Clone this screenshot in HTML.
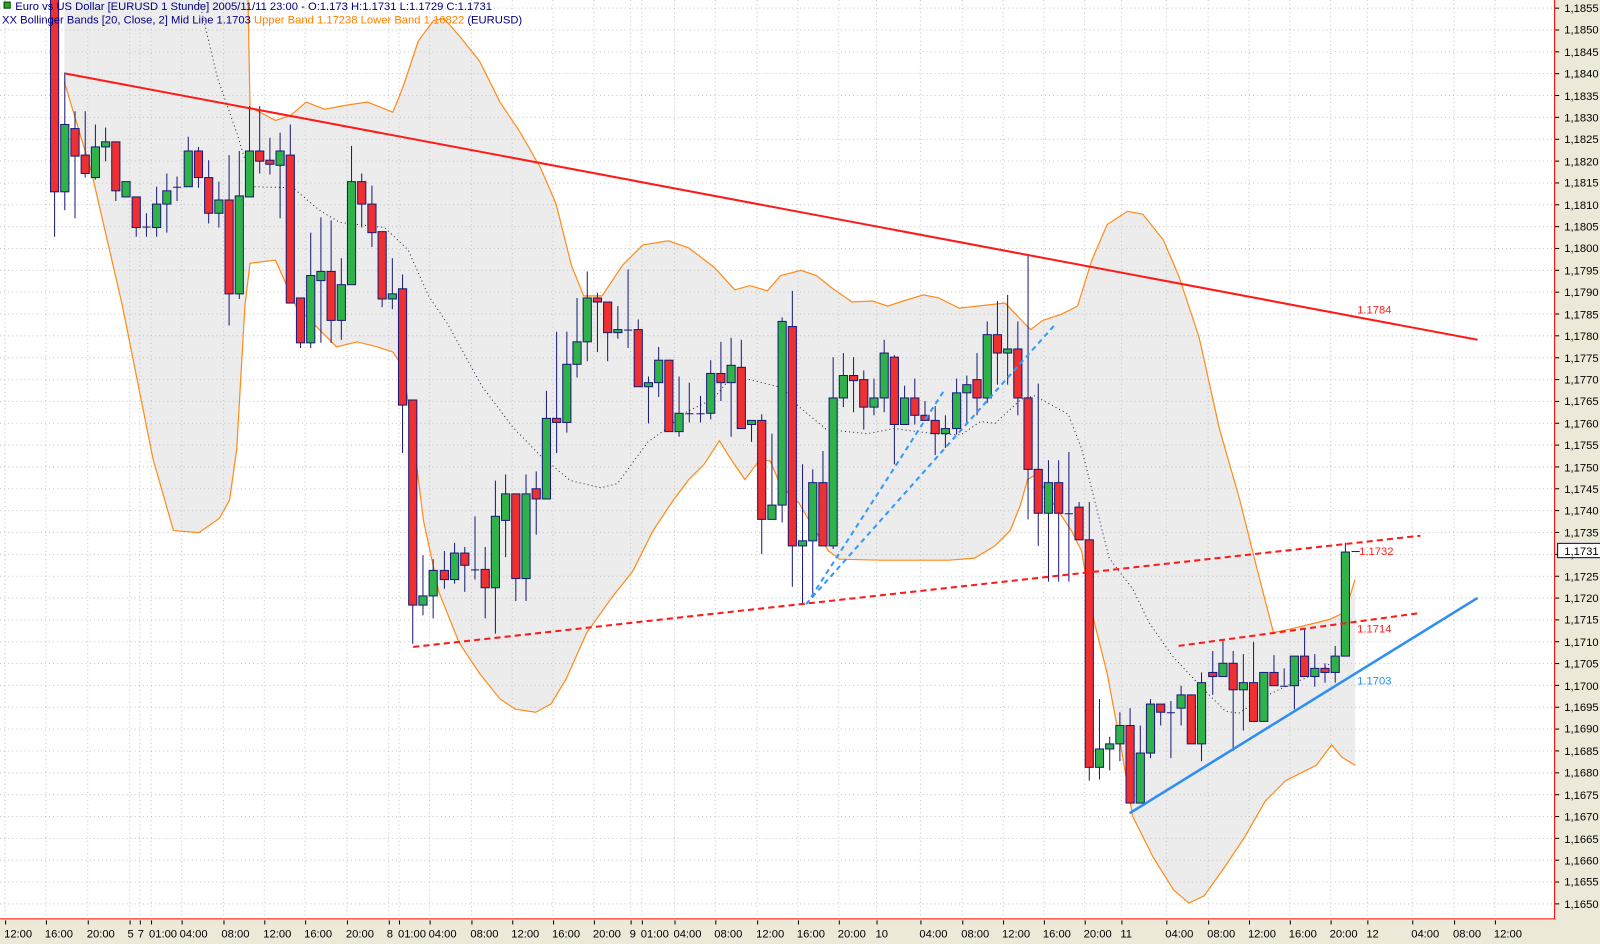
<!DOCTYPE html>
<html><head><meta charset="utf-8"><style>
html,body{margin:0;padding:0;background:#fff;}
svg{display:block;font-family:"Liberation Sans",sans-serif;}
</style></head><body>
<svg id="s" width="1600" height="944" viewBox="0 0 1600 944" xmlns="http://www.w3.org/2000/svg">
<rect x="0" y="0" width="1600" height="944" fill="#fff"/>
<g transform="scale(1.0204)">
<g id="band"></g>
<g id="grid"></g>
<g id="bandlines"></g>
<g id="candles"></g>
<g id="lines">
<line x1="64" y1="72" x2="1448" y2="333" stroke="#ff1a1a" stroke-width="2"/>
<line x1="405" y1="634" x2="1392" y2="525" stroke="#ff1a1a" stroke-width="2" stroke-dasharray="6,4"/>
<line x1="1155" y1="633" x2="1390" y2="601" stroke="#ff1a1a" stroke-width="2" stroke-dasharray="6,4"/>
<line x1="1107" y1="797" x2="1448" y2="586" stroke="#2f8ff0" stroke-width="2.5"/>
<line x1="790" y1="592" x2="1034" y2="318" stroke="#3399ff" stroke-width="2" stroke-dasharray="5,4"/>
<line x1="795" y1="585" x2="925" y2="383" stroke="#3399ff" stroke-width="2" stroke-dasharray="5,4"/>
</g>
<g font-size="11">
<text x="1330" y="307" fill="#ff2020">1.1784</text>
<text x="1332" y="544" fill="#ff2020">1.1732</text>
<text x="1330" y="620" fill="#ff2020">1.1714</text>
<text x="1330" y="671" fill="#2f8ff0">1.1703</text>
</g>
<rect x="4" y="2" width="6" height="6" fill="#22aa22" stroke="#004400" stroke-width="1"/>
<text x="15" y="10" font-size="11" fill="#000080">Euro vs US Dollar [EURUSD  1 Stunde] 2005/11/11 23:00 - O:1.173 H:1.1731 L:1.1729 C:1.1731</text>
<text x="2" y="23" font-size="11" fill="#000080">XX Bollinger Bands [20, Close, 2] Mid Line 1.1703 <tspan fill="#ff8000">Upper Band 1.17238 Lower Band 1.16822</tspan> (EURUSD)</text>
<rect x="1524" y="0" width="80" height="950" fill="#ece9d8"/>
<rect x="0" y="901" width="1604" height="50" fill="#ece9d8"/>
<line x1="1523.5" y1="0" x2="1523.5" y2="901" stroke="#ff0000" stroke-width="1"/>
<line x1="0" y1="900.5" x2="1524" y2="900.5" stroke="#ff0000" stroke-width="1"/>
<g id="ticks" stroke="#000" stroke-width="1"></g>
<g font-size="11" fill="#000">
<text x="1533" y="12">1,1855</text><text x="1533" y="33">1,1850</text><text x="1533" y="55">1,1845</text><text x="1533" y="76">1,1840</text><text x="1533" y="98">1,1835</text><text x="1533" y="119">1,1830</text><text x="1533" y="140">1,1825</text><text x="1533" y="162">1,1820</text><text x="1533" y="183">1,1815</text><text x="1533" y="205">1,1810</text><text x="1533" y="226">1,1805</text><text x="1533" y="247">1,1800</text><text x="1533" y="269">1,1795</text><text x="1533" y="290">1,1790</text><text x="1533" y="312">1,1785</text><text x="1533" y="333">1,1780</text><text x="1533" y="355">1,1775</text><text x="1533" y="376">1,1770</text><text x="1533" y="397">1,1765</text><text x="1533" y="419">1,1760</text><text x="1533" y="440">1,1755</text><text x="1533" y="462">1,1750</text><text x="1533" y="483">1,1745</text><text x="1533" y="504">1,1740</text><text x="1533" y="526">1,1735</text><text x="1533" y="547">1,1730</text><text x="1533" y="569">1,1725</text><text x="1533" y="590">1,1720</text><text x="1533" y="611">1,1715</text><text x="1533" y="633">1,1710</text><text x="1533" y="654">1,1705</text><text x="1533" y="676">1,1700</text><text x="1533" y="697">1,1695</text><text x="1533" y="718">1,1690</text><text x="1533" y="740">1,1685</text><text x="1533" y="761">1,1680</text><text x="1533" y="783">1,1675</text><text x="1533" y="804">1,1670</text><text x="1533" y="826">1,1665</text><text x="1533" y="847">1,1660</text><text x="1533" y="868">1,1655</text><text x="1533" y="890">1,1650</text>
</g>
<rect x="1526.5" y="532.5" width="73" height="14" fill="#fff" stroke="#000080" stroke-width="1"/>
<text x="1533" y="544" font-size="11" fill="#000">1,1731</text>
<g font-size="11" fill="#000">
<text x="4" y="919">12:00</text><text x="44" y="919">16:00</text><text x="85" y="919">20:00</text><text x="125" y="919">5</text><text x="135" y="919">7</text><text x="146" y="919">01:00</text><text x="176" y="919">04:00</text><text x="217" y="919">08:00</text><text x="258" y="919">12:00</text><text x="298" y="919">16:00</text><text x="339" y="919">20:00</text><text x="379" y="919">8</text><text x="390" y="919">01:00</text><text x="420" y="919">04:00</text><text x="461" y="919">08:00</text><text x="501" y="919">12:00</text><text x="541" y="919">16:00</text><text x="581" y="919">20:00</text><text x="617" y="919">9</text><text x="628" y="919">01:00</text><text x="660" y="919">04:00</text><text x="700" y="919">08:00</text><text x="741" y="919">12:00</text><text x="781" y="919">16:00</text><text x="821" y="919">20:00</text><text x="858" y="919">10</text><text x="901" y="919">04:00</text><text x="942" y="919">08:00</text><text x="982" y="919">12:00</text><text x="1022" y="919">16:00</text><text x="1062" y="919">20:00</text><text x="1098" y="919">11</text><text x="1142" y="919">04:00</text><text x="1183" y="919">08:00</text><text x="1223" y="919">12:00</text><text x="1263" y="919">16:00</text><text x="1303" y="919">20:00</text><text x="1339" y="919">12</text><text x="1383" y="919">04:00</text><text x="1424" y="919">08:00</text><text x="1464" y="919">12:00</text>
</g>
</g>
</svg>
<script>
(function(){
var NS="http://www.w3.org/2000/svg";
function el(p,t,a){var e=document.createElementNS(NS,t);for(var k in a)e.setAttribute(k,a[k]);p.appendChild(e);return e;}
var up=[[63,-5],[243,-5],[245,105],[270,118],[285,113],[300,100],[318,107],[340,103],[360,100],[385,110],[395,85],[410,40],[425,20],[435,18],[450,35],[470,60],[490,100],[510,130],[530,165],[545,200],[560,260],[572,290],[590,290],[610,260],[630,240],[655,236],[675,243],[700,262],[720,284],[735,280],[752,285],[765,270],[785,265],[800,270],[815,282],[835,296],[855,295],[870,300],[885,295],[905,289],[920,292],[940,302],[985,297],[1005,318],[1010,323],[1022,314],[1040,308],[1056,300],[1070,255],[1085,220],[1105,207],[1120,210],[1140,235],[1155,270],[1175,330],[1195,420],[1215,490],[1230,550],[1248,620],[1262,617],[1283,612],[1303,607],[1318,600],[1328,568]];
var lo=[[63,80],[90,170],[120,300],[150,450],[170,520],[195,522],[215,508],[225,490],[232,440],[240,300],[245,258],[270,255],[290,300],[310,320],[330,340],[350,335],[370,340],[385,345],[395,360],[405,430],[415,510],[430,580],[450,630],[470,660],[490,685],[505,695],[525,698],[540,690],[555,665],[575,620],[600,585],[620,560],[640,520],[660,490],[675,470],[690,455],[705,432],[715,448],[730,470],[745,450],[755,452],[765,476],[783,493],[797,517],[812,540],[823,548],[863,549],[930,549],[955,547],[975,535],[990,520],[1000,495],[1007,470],[1015,465],[1030,490],[1050,520],[1060,540],[1070,600],[1085,660],[1100,740],[1110,800],[1130,840],[1150,872],[1165,885],[1180,878],[1200,850],[1220,820],[1240,785],[1260,765],[1290,750],[1305,730],[1315,742],[1328,750]];
var band=document.getElementById('band');
var pts=up.map(function(p){return p.join(',')}).concat(lo.slice().reverse().map(function(p){return p.join(',')})).join(' ');
el(band,'polygon',{points:pts,fill:'#ececec'});
var g=document.getElementById('grid');
for(var k=0;k<42;k++){var y=8+k*21.41;el(g,'line',{x1:0,y1:y.toFixed(1),x2:1523,y2:y.toFixed(1),stroke:'#c4c4c4','stroke-dasharray':'1,3','stroke-width':1});}
var tx=[5,45,86,127,137,148,178,219,259,299,340,381,391,421,462,502,542,582,618,629,661,701,742,782,822,859,902,943,983,1023,1063,1099,1143,1184,1224,1264,1304,1340,1384,1425,1465];
tx.forEach(function(x){el(g,'line',{x1:x,y1:0,x2:x,y2:900,stroke:'#c4c4c4','stroke-dasharray':'1,3','stroke-width':1});});
var tk=document.getElementById('ticks');
tx.forEach(function(x){el(tk,'line',{x1:x+.5,y1:902,x2:x+.5,y2:906});});
for(var k=0;k<42;k++){var y=8+k*21.41;el(tk,'line',{x1:1524,y1:y.toFixed(1),x2:1528,y2:y.toFixed(1)});}
var bl=document.getElementById('bandlines');
el(bl,'polyline',{points:up.map(function(p){return p.join(',')}).join(' '),fill:'none',stroke:'#ff8c1a','stroke-width':1.2});
el(bl,'polyline',{points:lo.map(function(p){return p.join(',')}).join(' '),fill:'none',stroke:'#ff8c1a','stroke-width':1.2});
var mid=[[195,0],[213,76],[233,133],[248,183],[287,184],[313,206],[333,218],[377,223],[400,245],[420,290],[439,318],[472,378],[502,418],[529,446],[559,471],[589,478],[605,474],[635,433],[652,421],[672,404],[699,391],[718,368],[767,380],[780,396],[810,421],[850,425],[876,420],[915,425],[942,426],[961,413],[975,415],[1001,391],[1014,388],[1047,406],[1060,440],[1087,547],[1110,577],[1126,610],[1149,643],[1162,657],[1181,677],[1201,697],[1214,699],[1237,684],[1257,674],[1290,660],[1318,640]];
el(bl,'polyline',{points:mid.map(function(p){return p.join(',')}).join(' '),fill:'none',stroke:'#222244','stroke-width':1,'stroke-dasharray':'1,3'});
var z4=[['R',0,192,0,236],['G',126,192,75,210],['R',130,157,113,218],['R',156,174,113,178],['G',148,178,126,180],['G',143,148,129,162],['R',143,191,143,201],['G',182,197,182,197],['R',197,227,197,236],['D',226,226,213,236],['G',204,227,187,236],['G',191,204,174,232],['D',187,187,177,201],['G',152,187,138,187],['R',152,178,148,188],['R',178,213,161,223],['G',200,213,182,227],['R',200,292,156,323],['G',196,292,152,297],['G',152,197,108,197],['R',152,162,108,174],['R',161,165,139,175],['G',152,166,134,218],['R',156,301,126,301],['R',296,340,296,345],['G',274,340,232,345],['G',270,279,217,340],['R',270,318,220,340],['G',283,318,257,337],['G',182,283,147,283],['R',182,204,174,227],['R',204,232,186,246],['R',231,297,231,305],['G',292,297,257,307]];
var z5=[['R',292,406,278,453],['R',401,602,401,640],['G',593,602,553,612],['G',568,593,557,615],['R',568,577,549,586],['G',551,577,541,581],['R',551,563,545,589],['D',567,567,515,577],['R',567,585,545,615],['G',515,585,480,630],['G',493,519,474,555],['R',493,576,493,598],['G',493,576,474,598],['R',488,498,471,533],['G',419,498,392,498],['R',419,423,334,453],['G',366,423,334,433],['G',344,366,301,379],['G',301,344,275,363],['R',301,305,296,354],['R',305,335,305,363],['G',332,335,309,341],['D',332,332,273,350],['R',332,388,322,388],['G',384,388,378,424],['G',362,384,349,398],['R',362,432,362,432],['G',414,432,378,437],['D',414,414,384,423],['D',414,414,397,423],['G',375,414,362,420],['R',375,384,344,402],['G',367,384,340,437]];
var z6=[['R',367,427,340,427],['G',419,423,419,440],['R',419,516,413,550],['G',502,516,432,516],['G',322,502,318,519],['R',327,542,292,582],['G',537,542,462,600],['G',480,537,467,593],['R',480,542,449,542],['G',397,542,357,545],['G',375,397,353,406],['R',375,380,357,411],['R',379,406,370,428],['G',397,406,378,414],['G',353,397,340,411],['R',357,423,355,462],['G',397,423,385,423],['R',397,414,378,423],['R',414,419,400,419],['R',419,432,405,453],['G',427,432,414,446],['G',392,427,378,433],['G',384,392,375,423],['R',379,397,353,414],['G',335,397,322,402],['R',335,353,302,384],['G',349,353,296,384],['R',349,397,322,414],['R',397,467,257,516],['R',467,510,383,542],['G',480,510,458,577],['R',480,510,458,577],['D',510,510,450,577]];
var z7=[['R',510,542,505,542],['R',542,765,505,778],['G',747,765,698,777],['G',742,747,735,768],['G',724,742,711,759],['R',724,800,707,800],['G',751,800,724,800],['G',703,751,698,756],['R',703,711,703,724],['D',711,711,700,756],['G',694,707,685,724],['R',694,742,694,742],['G',682,742,672,759],['R',672,676,651,694],['G',663,676,641,676],['R',663,689,651,749],['G',682,689,654,729],['R',682,720,642,720],['G',672,720,672,720],['R',672,685,655,685],['D',685,685,668,685],['G',656,685,656,708],['R',656,676,629,676],['G',668,676,654,686],['R',668,672,663,682],['G',656,672,646,682],['G',554,656,545,656],['D',553,553,553,553]];
var all=[];
function add(arr,off){arr.forEach(function(c){all.push([c[0],c[1]-off,c[2]-off,c[3]-off,c[4]-off]);});}
add(z4,4);add(z5,9);add(z6,7);add(z7,13);
all[0][1]=-2;all[0][3]=-2;
var cg=document.getElementById('candles');
all.forEach(function(c,i){
var x=Math.round(53+i*10.04)+0.5;
el(cg,'line',{x1:x,y1:c[3],x2:x,y2:c[4],stroke:'#1a1a78','stroke-width':1});
if(c[0]==='D'){el(cg,'line',{x1:x-4,y1:c[1]+.5,x2:x+4,y2:c[1]+.5,stroke:'#1a1a78','stroke-width':1});}
else{var h=Math.max(2,c[2]-c[1]);el(cg,'rect',{x:x-4,y:c[1],width:8,height:h,fill:c[0]==='R'?'#ee3030':'#2fb24a',stroke:'#1a1a78','stroke-width':1});}
});
})();
</script>
</body></html>
